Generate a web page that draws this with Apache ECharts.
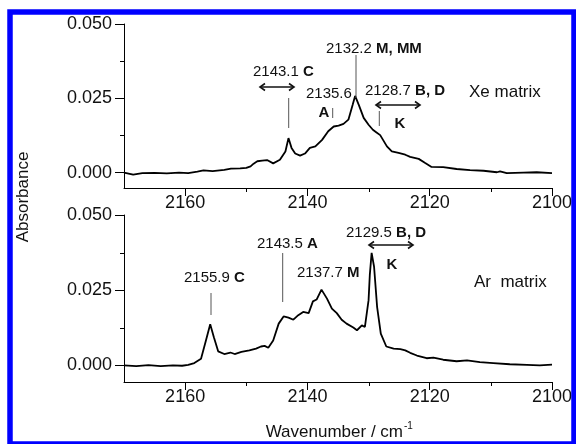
<!DOCTYPE html>
<html>
<head>
<meta charset="utf-8">
<script src="https://cdn.jsdelivr.net/npm/echarts@6/dist/echarts.min.js"></script>
<style>
html,body{margin:0;padding:0;background:#fff;}
#chart{width:576px;height:444px;}
</style>
</head>
<body>
<div id="chart"></div>
<script>
// ---- data ----
const xeWavenumber = [2170,2168.5,2167,2165,2163,2161,2159.5,2158,2157,2155.5,2153.6,2152.5,2151,2150,2149.3,2148.8,2148.2,2147.4,2146.6,2145.6,2144.5,2143.6,2143.1,2142.6,2142.0,2141.2,2140.4,2139.6,2138.7,2137.6,2136.6,2135.7,2134.9,2134.1,2133.3,2132.6,2132.2,2131.6,2130.8,2130.0,2129.3,2128.7,2128.1,2127.0,2126.2,2125.1,2124.0,2123.2,2121.8,2120.8,2119.7,2117.8,2115.6,2113.4,2111.2,2109.0,2108.5,2107.4,2104.7,2102.5,2100];
const xeAbsorbance = [0.0000,-0.0007,-0.0002,-0.0001,-0.0003,0.0000,-0.0002,0.0003,0.0007,0.0005,0.0009,0.0013,0.0014,0.0016,0.0021,0.0030,0.0038,0.0040,0.0042,0.0031,0.0043,0.0071,0.0116,0.0083,0.0064,0.0057,0.0064,0.0083,0.0088,0.0110,0.0139,0.0155,0.0158,0.0164,0.0178,0.0228,0.0258,0.0228,0.0184,0.0161,0.0144,0.0135,0.0126,0.0088,0.0071,0.0066,0.0060,0.0053,0.0046,0.0033,0.0019,0.0018,0.0012,0.0008,0.0006,0.0001,0.0004,-0.0002,0.0000,0.0001,-0.0002];
const arWavenumber = [2170,2168,2166,2164,2162,2160.5,2159.5,2158.5,2157.4,2156.6,2155.9,2155.3,2154.6,2153.6,2152.6,2151.9,2150.8,2149.5,2148.4,2147.6,2147.0,2146.4,2145.6,2144.7,2143.9,2143.1,2142.3,2141.5,2140.7,2139.8,2139.1,2138.5,2137.7,2136.8,2136.0,2135.2,2134.4,2133.6,2132.5,2131.9,2131.1,2130.6,2130.0,2129.8,2129.5,2129.1,2128.6,2128.0,2127.1,2125.9,2124.8,2124.0,2123.2,2122.1,2120.5,2119.4,2117.8,2115.6,2113.9,2111.8,2109.6,2106.9,2104.1,2102.0,2100];
const arAbsorbance = [0.0000,-0.0002,0.0001,-0.0002,0.0000,-0.0001,0.0002,0.0008,0.0022,0.0083,0.0137,0.0094,0.0047,0.0038,0.0043,0.0038,0.0045,0.0050,0.0056,0.0063,0.0065,0.0059,0.0083,0.0139,0.0163,0.0159,0.0152,0.0167,0.0178,0.0174,0.0213,0.0219,0.0252,0.0222,0.0189,0.0174,0.0152,0.0139,0.0126,0.0117,0.0133,0.0128,0.0217,0.0300,0.0374,0.0328,0.0194,0.0106,0.0063,0.0056,0.0054,0.0050,0.0042,0.0033,0.0024,0.0026,0.0019,0.0014,0.0017,0.0011,0.0008,0.0004,0.0002,0.0000,0.0003];
const xTicks = [2100, 2120, 2140, 2160];
const xMinorTicks = [2110, 2130, 2150];
const yTicks = [0, 0.025, 0.05];
const yMinorTicks = [0.0125, 0.0375];

// ---- chart ----
const FONT = 'Liberation Sans, Arial, sans-serif';
const chart = echarts.init(document.getElementById('chart'));
const pairs = (xs, ys) => xs.map((x, i) => [x, ys[i]]);
const yMins = [-0.0052, -0.0055];
const grids = [
  {left:124, right:24, top:24, height:164},
  {left:124, right:24, top:215, height:167}
];

function xAxisOf(gridIndex) {
  return { type:'value', gridIndex, min:2100, max:2170, inverse:true, position:'bottom',
    axisLine:{show:true, onZero:false, lineStyle:{color:'#000', width:1}},
    axisTick:{show:true, customValues:xTicks, length:8, lineStyle:{color:'#000'}},
    axisLabel:{customValues:xTicks, fontSize:18, color:'#111', fontFamily:FONT, margin:6,
               formatter:v => String(v)},
    splitLine:{show:false} };
}
function yAxisOf(gridIndex) {
  return { type:'value', gridIndex, min:yMins[gridIndex], max:0.05, position:'left',
    axisLine:{show:true, onZero:false, lineStyle:{color:'#000', width:1}},
    axisTick:{show:true, customValues:yTicks, length:9, lineStyle:{color:'#000'}},
    axisLabel:{customValues:yTicks, fontSize:18, color:'#111', fontFamily:FONT, margin:12,
               formatter:v => v.toFixed(3)},
    splitLine:{show:false} };
}

const txt = (x, y, text, opts) => ({
  type:'text', x, y, z:10, rotation:(opts && opts.rotation) || 0,
  style:Object.assign({text, fill:'#111', fontSize:15, fontFamily:FONT, fontWeight:'normal',
    verticalAlign:'middle', align:'left'}, opts && opts.style || {})
});
const rt = (x, y, num, bold) => ({
  type:'text', x, y, z:10,
  style:{ text:'{n|' + num + '} {b|' + bold + '}', verticalAlign:'middle', align:'left',
    fontSize:15, fontFamily:FONT, fill:'#111',
    rich:{ n:{fontSize:15, fontFamily:FONT, fill:'#111'},
           b:{fontSize:15, fontFamily:FONT, fontWeight:'bold', fill:'#111'} } }
});
const vline = (x, y1, y2) => ({ type:'line', z:10, shape:{x1:x, y1, x2:x, y2}, style:{stroke:'#555', lineWidth:1} });
const arrow = (x1, x2, y) => ({
  type:'group', z:10, children:[
    {type:'line', shape:{x1, y1:y, x2, y2:y}, style:{stroke:'#111', lineWidth:1.6}},
    {type:'polyline', shape:{points:[[x1+5,y-3.5],[x1,y],[x1+5,y+3.5]]}, style:{stroke:'#111', lineWidth:1.6, fill:null}},
    {type:'polyline', shape:{points:[[x2-5,y-3.5],[x2,y],[x2-5,y+3.5]]}, style:{stroke:'#111', lineWidth:1.6, fill:null}}
  ]
});
const boldTxt = (x, y, t) => txt(x, y, t, {style:{fontWeight:'bold', align:'center'}});

const graphics = [
  // axis titles
  txt(23, 197, 'Absorbance', {rotation:Math.PI/2, style:{fontSize:17, align:'center'}}),
  txt(403, 432, 'Wavenumber / cm', {style:{fontSize:17, align:'right'}}),
  txt(404, 426, '-1', {style:{fontSize:10}}),
  // Xe panel
  rt(326, 49, '2132.2', 'M, MM'),
  vline(356, 55, 98),
  rt(253, 72, '2143.1', 'C'),
  arrow(260, 294, 87),
  vline(288.7, 98, 128),
  txt(306, 94, '2135.6'),
  boldTxt(324, 113, 'A'),
  vline(332.7, 108, 118),
  rt(365, 91, '2128.7', 'B, D'),
  arrow(376, 420, 105),
  vline(379.3, 111, 126),
  boldTxt(400, 124, 'K'),
  txt(469, 92, 'Xe matrix', {style:{fontSize:17}}),
  // Ar panel
  rt(346, 233, '2129.5', 'B, D'),
  arrow(369, 413, 245),
  boldTxt(392, 265, 'K'),
  rt(257, 244, '2143.5', 'A'),
  vline(282.7, 253, 302),
  rt(297, 273, '2137.7', 'M'),
  rt(184, 278, '2155.9', 'C'),
  vline(211, 293, 315),
  txt(474, 282, 'Ar  matrix', {style:{fontSize:17}}),
  // blue frame
  {type:'rect', z:100, shape:{x:10, y:12, width:564, height:432},
   style:{fill:null, stroke:'#0000ff', lineWidth:5.5}}
];

const option = {
  backgroundColor:'#fff',
  animation:false,
  grid:grids,
  xAxis:[xAxisOf(0), xAxisOf(1)],
  yAxis:[yAxisOf(0), yAxisOf(1)],
  series:[
    {type:'line', xAxisIndex:0, yAxisIndex:0, data:pairs(xeWavenumber, xeAbsorbance),
     showSymbol:false, lineStyle:{color:'#000', width:1.8}, silent:true},
    {type:'line', xAxisIndex:1, yAxisIndex:1, data:pairs(arWavenumber, arAbsorbance),
     showSymbol:false, lineStyle:{color:'#000', width:1.8}, silent:true}
  ],
  graphic:graphics
};
chart.setOption(option);

// minor ticks, positioned through the axes' own scales
const minor = [];
[0, 1].forEach(g => {
  const yMin = yMins[g];
  xMinorTicks.forEach(v => {
    const p = chart.convertToPixel({gridIndex:g}, [v, yMin]);
    minor.push({type:'line', z:5, shape:{x1:Math.round(p[0])+0.5, y1:p[1], x2:Math.round(p[0])+0.5, y2:p[1]+4},
      style:{stroke:'#000', lineWidth:1}});
  });
  yMinorTicks.forEach(v => {
    const p = chart.convertToPixel({gridIndex:g}, [2170, v]);
    minor.push({type:'line', z:5, shape:{x1:p[0]-4, y1:Math.round(p[1])+0.5, x2:p[0], y2:Math.round(p[1])+0.5},
      style:{stroke:'#000', lineWidth:1}});
  });
});
chart.setOption({graphic:graphics.concat(minor)}, {replaceMerge:['graphic']});
</script>
</body>
</html>
